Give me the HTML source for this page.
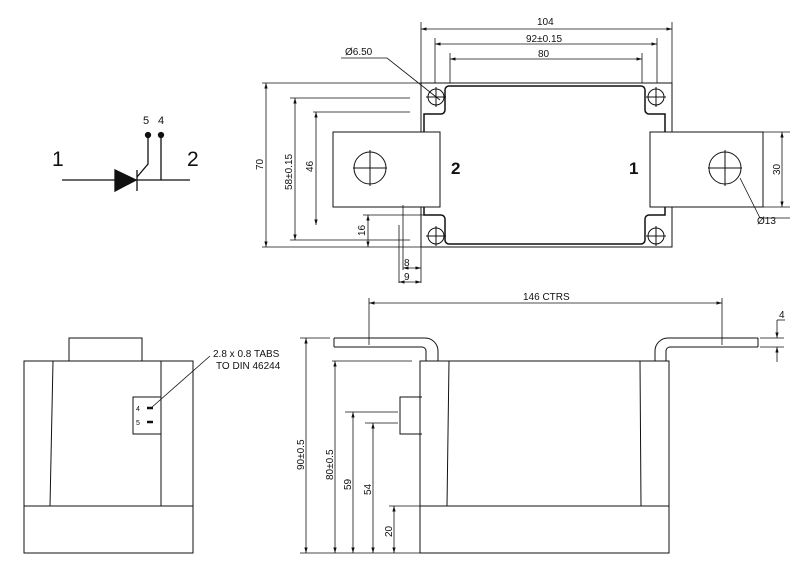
<!DOCTYPE html>
<html><head><style>body{margin:0;background:#fff}svg{display:block}</style></head><body>
<svg width="800" height="575" viewBox="0 0 800 575" xmlns="http://www.w3.org/2000/svg" font-family="Liberation Sans, sans-serif" fill="none" stroke="#111" stroke-width="1">
<defs><marker id="a" viewBox="0 0 10 10" refX="10" refY="5" markerWidth="7" markerHeight="7" orient="auto-start-reverse"><path d="M0,2L10,5L0,8z" fill="#111" stroke="none"/></marker></defs>
<!-- symbol -->
<g stroke-width="1.3">
<line x1="62" y1="180" x2="190" y2="180"/>
<path d="M115,170L136,180L115,191z" fill="#111"/>
<line x1="137" y1="170" x2="137" y2="191"/>
<polyline points="148,135 148,164 137,177"/>
<line x1="161" y1="135" x2="161" y2="180"/>
<circle cx="148" cy="135" r="2.5" fill="#111"/><circle cx="161" cy="135" r="2.5" fill="#111"/>
</g>
<g fill="#111" stroke="none">
<text x="52" y="166" font-size="21">1</text><text x="187" y="166" font-size="21">2</text>
<text x="143" y="124" font-size="11">5</text><text x="158" y="124" font-size="11">4</text>
</g>
<!-- top view -->
<rect x="421" y="83" width="251" height="164"/>
<path d="M449,86H641a4,4 0 0 1 4,4V110a4,4 0 0 0 4,4H665V215H649a4,4 0 0 0 -4,4V240a4,4 0 0 1 -4,4H449a4,4 0 0 1 -4,-4V219a4,4 0 0 0 -4,-4H424V114H441a4,4 0 0 0 4,-4V90a4,4 0 0 1 4,-4z" stroke-width="1.5"/>
<g>
<circle cx="436" cy="97" r="8"/><circle cx="656" cy="97" r="8"/><circle cx="436" cy="236" r="8"/><circle cx="656" cy="236" r="8"/>
<path d="M426,97h20M436,87v20M646,97h20M656,87v20M426,236h20M436,226v20M646,236h20M656,226v20"/>
</g>
<rect x="333" y="132" width="107" height="75" fill="#fff"/>
<rect x="650" y="132" width="113" height="75" fill="#fff"/>
<circle cx="370" cy="168" r="16"/><path d="M353,168h34M370,150v36"/>
<circle cx="725" cy="168" r="16"/><path d="M708,168h34M725,150v36"/>
<g fill="#111" stroke="none" font-size="17" font-weight="bold"><text x="451" y="174">2</text><text x="629" y="174">1</text></g>
<g stroke-width="0.8">
<path d="M421,83V22M672,83V22M435,83V38M657,83V38M450,83V53M642,83V53"/>
<line x1="421" y1="29" x2="672" y2="29" marker-start="url(#a)" marker-end="url(#a)"/>
<line x1="435" y1="44" x2="657" y2="44" marker-start="url(#a)" marker-end="url(#a)"/>
<line x1="450" y1="59" x2="642" y2="59" marker-start="url(#a)" marker-end="url(#a)"/>
<polyline points="341,58 387,58 440,100"/>
<path d="M262,83H421M290,98H410M313,112H410M262,247H421M290,240H410M363,215H425"/>
<line x1="266" y1="83" x2="266" y2="247" marker-start="url(#a)" marker-end="url(#a)"/>
<line x1="295" y1="98" x2="295" y2="240" marker-start="url(#a)" marker-end="url(#a)"/>
<line x1="316" y1="112" x2="316" y2="225" marker-start="url(#a)" marker-end="url(#a)"/>
<line x1="368" y1="215" x2="368" y2="247" marker-start="url(#a)" marker-end="url(#a)"/>
<path d="M399,225V283M421,247V283M403,205V270"/>
<line x1="403" y1="268" x2="421" y2="268" marker-start="url(#a)" marker-end="url(#a)"/>
<line x1="399" y1="282" x2="421" y2="282" marker-start="url(#a)" marker-end="url(#a)"/>
<path d="M763,132H790M763,207H790M740,178L760,218H790"/>
<line x1="782" y1="132" x2="782" y2="207" marker-start="url(#a)" marker-end="url(#a)"/>
</g>
<g fill="#111" stroke="none" font-size="10">
<text x="537" y="25">104</text><text x="526" y="42">92±0.15</text><text x="538" y="57">80</text>
<text x="345" y="55">Ø6.50</text><text x="757" y="224">Ø13</text>
<text x="404" y="266">8</text><text x="404" y="280">9</text>
<text transform="translate(263,170) rotate(-90)">70</text>
<text transform="translate(292,190) rotate(-90)">58±0.15</text>
<text transform="translate(313,172) rotate(-90)">46</text>
<text transform="translate(365,236) rotate(-90)">16</text>
<text transform="translate(780,175) rotate(-90)">30</text>
</g>
<!-- left side view -->
<rect x="69" y="338" width="73" height="23"/>
<rect x="24" y="361" width="169" height="192"/>
<path d="M24,506H193M53,361L50,506M161,361L161,506"/>
<rect x="133" y="397" width="28" height="37"/>
<path d="M147,408h6M147,422h6" stroke-width="2.5"/>
<polyline points="151,408 210,356" stroke-width="0.8"/>
<g fill="#111" stroke="none" font-size="10"><text x="213" y="357">2.8 x 0.8 TABS</text><text x="216" y="369">TO DIN 46244</text><text x="136" y="411" font-size="7">4</text><text x="136" y="425" font-size="7">5</text></g>
<!-- right side view -->
<rect x="420" y="361" width="249" height="192"/>
<path d="M420,506H669M449,361L447,506M640,361L641,506"/>
<path d="M334,338H425a13,13 0 0 1 13,13V361M334,347H422a4,4 0 0 1 4,4V361M334,338V347"/>
<path d="M758,338H668a13,13 0 0 0 -13,13V361M758,347H670a4,4 0 0 0 -4,4V361M758,338V347"/>
<path d="M422,397H400V434H422"/>
<g stroke-width="0.8">
<path d="M369,298V345M722,298V345M300,338H330M332,361H412M345,412H398M365,423H398M389,506H420M300,553H420M760,338H784M760,347H784"/>
<line x1="369" y1="303" x2="722" y2="303" marker-start="url(#a)" marker-end="url(#a)"/>
<line x1="306" y1="338" x2="306" y2="553" marker-start="url(#a)" marker-end="url(#a)"/>
<line x1="335" y1="361" x2="335" y2="553" marker-start="url(#a)" marker-end="url(#a)"/>
<line x1="353" y1="412" x2="353" y2="553" marker-start="url(#a)" marker-end="url(#a)"/>
<line x1="373" y1="423" x2="373" y2="553" marker-start="url(#a)" marker-end="url(#a)"/>
<line x1="394" y1="506" x2="394" y2="553" marker-start="url(#a)" marker-end="url(#a)"/>
<line x1="777" y1="320" x2="777" y2="338" marker-end="url(#a)"/>
<line x1="777" y1="362" x2="777" y2="347" marker-end="url(#a)"/>
<path d="M777,320H785"/>
</g>
<g fill="#111" stroke="none" font-size="10">
<text x="523" y="300">146 CTRS</text><text x="779" y="318">4</text>
<text transform="translate(304,470) rotate(-90)">90±0.5</text>
<text transform="translate(333,480) rotate(-90)">80±0.5</text>
<text transform="translate(351,490) rotate(-90)">59</text>
<text transform="translate(371,495) rotate(-90)">54</text>
<text transform="translate(392,537) rotate(-90)">20</text>
</g>
</svg>
</body></html>
